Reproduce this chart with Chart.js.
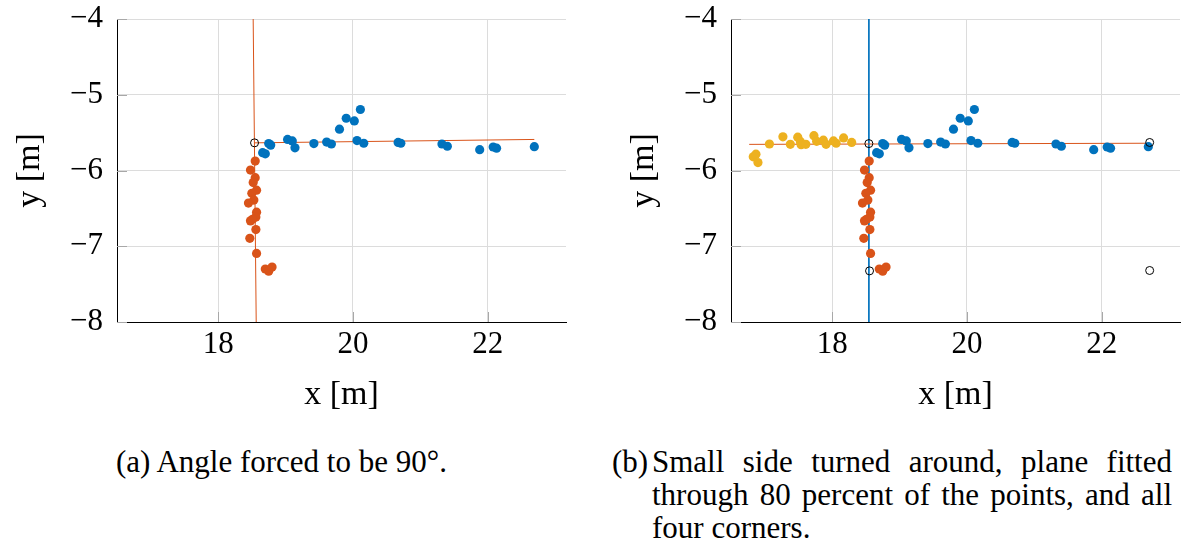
<!DOCTYPE html>
<html>
<head>
<meta charset="utf-8">
<script src="https://cdn.jsdelivr.net/npm/chart.js@4.4.0/dist/chart.umd.min.js"></script>
<style>
  body { margin: 0; width: 1183px; height: 539px; overflow: hidden; background: #fff; position: relative;
         font-family: "Liberation Serif", serif; color: #000; }
  canvas { position: absolute; top: 0; }
  #plotA { left: 0; }
  #plotB { left: 614px; }
  .cap { position: absolute; font-size: 31px; line-height: 33px; white-space: nowrap; }
  #capA { left: 116px; top: 445px; }
  #capB { left: 612px; top: 445px; width: 560px; }
  #capB .tag { position: absolute; left: 0; top: 0; }
  #capB .body { position: absolute; left: 40px; top: 0; width: 520px; }
  #capB .ln { text-align: justify; text-align-last: justify; }
  #capB .ln.last { text-align-last: left; }
</style>
</head>
<body>
<canvas id="plotA" width="571" height="420"></canvas>
<canvas id="plotB" width="571" height="420"></canvas>
<div class="cap" id="capA">(a) Angle forced to be 90°.</div>
<div class="cap" id="capB">
  <span class="tag">(b)</span>
  <div class="body">
    <div class="ln">Small side turned around, plane fitted</div>
    <div class="ln">through 80 percent of the points, and all</div>
    <div class="ln last">four corners.</div>
  </div>
</div>
<script>
// long wall points (blue)
const longX = [18.66, 18.70, 18.75, 18.78, 19.03, 19.10, 19.14, 19.42, 19.61, 19.68, 19.80, 19.90,
               20.02, 20.11, 20.06, 20.16, 20.67, 20.71, 21.32, 21.40, 21.88, 22.08, 22.13, 22.69];
const longY = [-5.765, -5.78, -5.645, -5.665, -5.59, -5.61, -5.70, -5.645, -5.625, -5.65, -5.455, -5.31,
               -5.345, -5.195, -5.605, -5.64, -5.63, -5.64, -5.65, -5.68, -5.725, -5.69, -5.705, -5.685];

// short wall points (orange)
const shortX = [18.55, 18.48, 18.55, 18.52, 18.57, 18.50, 18.53, 18.45, 18.57, 18.56, 18.48, 18.51,
                18.56, 18.47, 18.57, 18.70, 18.75, 18.80];
const shortY = [-5.875, -5.995, -6.095, -6.16, -6.26, -6.30, -6.39, -6.43, -6.55, -6.615, -6.665, -6.645,
                -6.78, -6.895, -7.095, -7.30, -7.33, -7.275];

// short wall turned around (yellow, panel b)
const turnedX = [16.83, 16.87, 16.90, 17.07, 17.27, 17.38, 17.49, 17.53, 17.54, 17.61, 17.73, 17.77,
                 17.87, 17.91, 18.02, 18.06, 18.17, 18.29];
const turnedY = [-5.82, -5.785, -5.895, -5.65, -5.555, -5.655, -5.56, -5.62, -5.66, -5.655, -5.54, -5.615,
                 -5.60, -5.655, -5.61, -5.64, -5.57, -5.63];

// panel a: fitted lines and corner
const fitLongAX = [18.54, 22.69];
const fitLongAY = [-5.635, -5.59];
const fitShortAX = [18.52, 18.565];
const fitShortAY = [-4, -8];
const cornerAX = [18.54];
const cornerAY = [-5.635];

// panel b: fitted lines and four corners
const fitLongBX = [16.77, 22.71];
const fitLongBY = [-5.655, -5.64];
const fitShortBX = [18.545, 18.545];
const fitShortBY = [-4, -8];
const cornerBX = [18.545, 18.555, 22.71, 22.71];
const cornerBY = [-5.645, -7.325, -5.63, -7.32];

const xTicks = [18, 20, 22];
const yTicks = [-8, -7, -6, -5, -4];

const blue = '#0072BD', orange = '#D95319', yellow = '#EDB120';
const serif = '"Liberation Serif", serif';

const pts = (xs, ys) => xs.map((x, i) => ({x: x, y: ys[i]}));

function dots(xs, ys, color) {
  return { data: pts(xs, ys), backgroundColor: color, borderColor: color, borderWidth: 0,
           pointRadius: 4.6, showLine: false, order: 2 };
}
function fitLine(xs, ys, color) {
  return { data: pts(xs, ys), borderColor: color, borderWidth: 1, pointRadius: 0,
           showLine: true, fill: false, order: 3 };
}
function corners(xs, ys) {
  return { data: pts(xs, ys), backgroundColor: 'rgba(0,0,0,0)', borderColor: '#000', borderWidth: 1,
           pointRadius: 4, showLine: false, order: 1 };
}

// short inward tick marks along the left and bottom axes
const innerTicks = {
  id: 'innerTicks',
  beforeDatasetsDraw(chart) {
    const {ctx, chartArea: a, scales: {x, y}} = chart;
    ctx.save();
    ctx.strokeStyle = '#a8a8a8';
    ctx.lineWidth = 1;
    ctx.beginPath();
    xTicks.forEach(v => {
      const px = Math.round(x.getPixelForValue(v)) + 0.5;
      ctx.moveTo(px, a.bottom); ctx.lineTo(px, a.bottom - 10);
    });
    yTicks.forEach(v => {
      const py = Math.round(y.getPixelForValue(v)) + 0.5;
      ctx.moveTo(a.left, py); ctx.lineTo(a.left + 10, py);
    });
    ctx.stroke();
    ctx.restore();
  }
};

const minus = v => String(v).replace('-', '\u2212');

function makeOptions() {
  return {
    responsive: false,
    animation: false,
    layout: { padding: { top: 19, right: 0, bottom: 0, left: 0 } },
    plugins: { legend: { display: false }, tooltip: { enabled: false } },
    scales: {
      x: {
        type: 'linear', min: 16.5, max: 23.16,
        afterFit: s => { s.height = 98; s.paddingLeft = 0; s.paddingRight = 0; },
        afterBuildTicks: s => { s.ticks = xTicks.map(v => ({value: v})); },
        grid: { color: '#dcdcdc', lineWidth: 1, drawTicks: false },
        border: { display: true, color: '#000', width: 1 },
        ticks: { color: '#000', padding: 4, font: { family: serif, size: 31 }, callback: minus },
        title: { display: true, text: 'x [m]', color: '#000', padding: { top: 0, bottom: 5 },
                 font: { family: serif, size: 34, lineHeight: 1.2 } }
      },
      y: {
        type: 'linear', min: -8, max: -4,
        afterFit: s => { s.width = 117; s.paddingTop = 0; s.paddingBottom = 0; },
        afterBuildTicks: s => { s.ticks = yTicks.map(v => ({value: v})); },
        grid: { color: '#dcdcdc', lineWidth: 1, drawTicks: false },
        border: { display: true, color: '#000', width: 1 },
        ticks: { color: '#000', padding: 14, font: { family: serif, size: 31 }, callback: minus },
        title: { display: true, text: 'y [m]', color: '#000', padding: { top: 10, bottom: 0 },
                 font: { family: serif, size: 34, lineHeight: 1.2 } }
      }
    }
  };
}

new Chart(document.getElementById('plotA'), {
  type: 'scatter',
  data: { datasets: [
    corners(cornerAX, cornerAY),
    dots(longX, longY, blue),
    dots(shortX, shortY, orange),
    fitLine(fitLongAX, fitLongAY, orange),
    fitLine(fitShortAX, fitShortAY, orange)
  ] },
  options: makeOptions(),
  plugins: [innerTicks]
});

new Chart(document.getElementById('plotB'), {
  type: 'scatter',
  data: { datasets: [
    corners(cornerBX, cornerBY),
    dots(longX, longY, blue),
    dots(shortX, shortY, orange),
    dots(turnedX, turnedY, yellow),
    fitLine(fitLongBX, fitLongBY, orange),
    fitLine(fitShortBX, fitShortBY, blue)
  ] },
  options: makeOptions(),
  plugins: [innerTicks]
});
</script>
</body>
</html>
